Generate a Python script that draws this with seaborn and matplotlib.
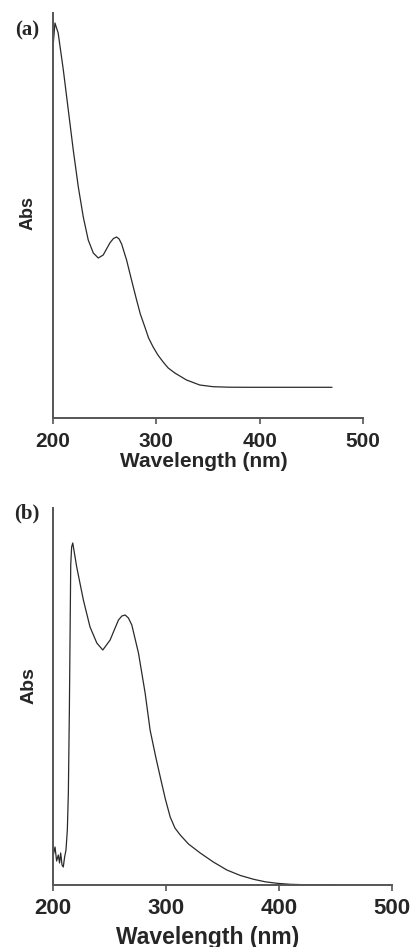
import seaborn as sns
import matplotlib.pyplot as plt
import pandas as pd

# UV-Vis spectra, absorbance in arbitrary units
wl_a = [200.3, 201.9, 205.0, 210.0, 214.8, 219.6, 224.5, 229.3, 234.1, 239.0,
        243.8, 248.6, 255.0, 258.5, 261.5, 264.0, 266.4, 271.2, 276.0, 280.9,
        284.5, 288.9, 292.5, 296.9, 301.5, 306.6, 311.5, 317.9, 329.2, 342.0,
        354.9, 370.0, 390.0, 430.0, 470.0]
abs_a = [375, 395, 385, 348, 308, 268, 231, 201, 178, 165,
         160, 163, 175, 179.5, 181, 179, 174, 158, 138, 118,
         104, 91, 80, 71, 63, 56, 50, 45, 38, 33,
         31.3, 30.8, 30.7, 30.7, 30.7]

wl_b = [200.3, 201.8, 203.2, 204.7, 205.8, 206.8, 208.0, 209.1, 210.3, 211.5,
        212.7, 213.6, 214.5, 215.2, 215.7, 216.5, 217.5, 221.0, 226.9, 232.8,
        238.8, 244.1, 250.6, 255.0, 258.0, 261.0, 263.9, 266.8, 269.8, 275.7,
        281.6, 286.0, 291.0, 295.0, 299.5, 303.8, 308.0, 312.7, 320.0, 330.4,
        342.0, 354.0, 366.0, 377.7, 388.0, 398.5, 410.0, 425.0, 448.5]
abs_b = [30, 38, 24, 30, 22, 32, 20, 18, 28, 35,
         55, 92, 175, 260, 320, 338, 342, 318, 285, 258,
         242, 235, 245, 257, 265, 269, 270, 267, 260, 232,
         192, 155, 128, 108, 86, 68, 57, 50, 41, 32,
         23, 15, 9.5, 5.7, 3.2, 1.7, 0.7, 0.2, 0]

xticks = [200, 300, 400, 500]

sns.set_style("ticks")
plt.rcParams['font.family'] = ['Liberation Sans', 'DejaVu Sans']

fig = plt.figure(figsize=(4.14, 9.47), dpi=100)
W, H = 414, 947

panels = [
    # data, axes box in pixels (left, top, right, bottom), fonts, label positions
    dict(x=wl_a, y=abs_a, box=(53, 13, 363, 418), ymax=405, tick=15, xl=15, yl=13,
         xl_pos=(0.487, -0.084), yl_pos=(-0.053, 0.506), tag="(a)", tag_xy=(27, 30), pad=6),
    dict(x=wl_b, y=abs_b, box=(53, 508, 391.7, 885), ymax=377, tick=16, xl=16.5, yl=14,
         xl_pos=(0.458, -0.108), yl_pos=(-0.046, 0.53), tag="(b)", tag_xy=(27, 513), pad=5.5),
]

for p in panels:
    l, t, r, b = p["box"]
    ax = fig.add_axes([l / W, 1 - b / H, (r - l) / W, (b - t) / H])
    df = pd.DataFrame({"Wavelength": p["x"], "Abs": p["y"]})
    sns.lineplot(data=df, x="Wavelength", y="Abs", ax=ax, color="#2a2a2a",
                 linewidth=0.9, sort=False, estimator=None)
    ax.set_xlim(200, 500)
    ax.set_ylim(0, p["ymax"])
    ax.set_xticks(xticks)
    ax.set_yticks([])
    sns.despine(ax=ax)
    for s in ["left", "bottom"]:
        ax.spines[s].set_color("#555555")
        ax.spines[s].set_linewidth(1.4)
    ax.tick_params(axis="x", direction="out", length=4, width=1.2, color="#555555",
                   pad=p["pad"], labelsize=p["tick"])
    for lab in ax.get_xticklabels():
        lab.set_fontweight("bold")
    ax.set_xlabel("Wavelength (nm)", fontsize=p["xl"], fontweight="bold")
    ax.set_ylabel("Abs", fontsize=p["yl"], fontweight="bold")
    ax.xaxis.set_label_coords(*p["xl_pos"])
    ax.yaxis.set_label_coords(*p["yl_pos"])
    fig.text(p["tag_xy"][0] / W, 1 - p["tag_xy"][1] / H, p["tag"], ha="center", va="center",
             fontsize=15, fontweight="bold", family=["Liberation Serif", "DejaVu Serif"])

fig.savefig("out.png", dpi=100)
